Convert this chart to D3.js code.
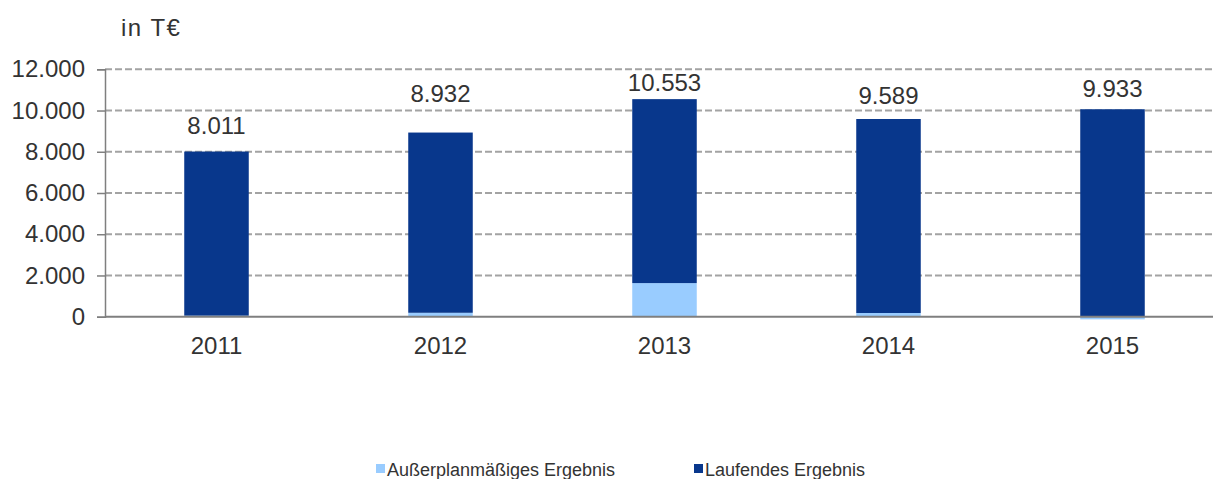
<!DOCTYPE html>
<html>
<head>
<meta charset="utf-8">
<script src="https://cdn.jsdelivr.net/npm/d3@7"></script>
<style>
  html, body { margin: 0; padding: 0; background: #fff; }
  svg { display: block; font-family: "Liberation Sans", Arial, sans-serif; }
</style>
</head>
<body>
<svg id="chart" width="1213" height="479"></svg>
<script>
// Jahreswerte in T€
const years = ["2011", "2012", "2013", "2014", "2015"];
const ausserplanmaessig = [50, 190, 1630, 180, -130];
const laufend = [7961, 8742, 8923, 9409, 10063];
const yTicks = [0, 2000, 4000, 6000, 8000, 10000, 12000];
const seriesNames = ["Außerplanmäßiges Ergebnis", "Laufendes Ergebnis"];

// Darstellung
const seriesColors = ["#99ccff", "#08378c"];
const textColor = "#333333";
const labelGap = [18, 31, 8, 15, 12]; // Abstand Summenbeschriftung über Balken (px)

const de = d3.formatLocale({ decimal: ",", thousands: ".", grouping: [3], currency: ["", " €"] });
const fmt = de.format(",d");

const svg = d3.select("#chart");
const W = 1213;

const x = d3.scaleBand().domain(years).range([104.5, 1224.5]).paddingInner(0.712).paddingOuter(0.356);
const y = d3.scaleLinear().domain([0, 12000]).range([316.7, 69.3]);

const rows = years.map((yr, i) => ({ year: yr, a: ausserplanmaessig[i], l: laufend[i] }));
const stacked = d3.stack().keys(["a", "l"]).offset(d3.stackOffsetDiverging)(rows);

// Hilfslinien
svg.append("g")
  .selectAll("line")
  .data(yTicks.filter(t => t > 0))
  .join("line")
  .attr("x1", 105).attr("x2", W)
  .attr("y1", d => y(d)).attr("y2", d => y(d))
  .attr("stroke", "#a3a3a3")
  .attr("stroke-width", 2)
  .attr("stroke-dasharray", "7,3");

// Balken
svg.append("g")
  .selectAll("g")
  .data(stacked)
  .join("g")
  .attr("fill", (d, i) => seriesColors[i])
  .selectAll("rect")
  .data(d => d)
  .join("rect")
  .attr("x", d => x(d.data.year))
  .attr("width", x.bandwidth())
  .attr("y", d => y(Math.max(d[0], d[1])))
  .attr("height", d => Math.abs(y(d[0]) - y(d[1])));

// y-Achse
const yAxis = svg.append("g")
  .attr("transform", "translate(105,0)")
  .call(d3.axisLeft(y).tickValues(yTicks).tickFormat(fmt).tickSize(8).tickPadding(12));
yAxis.select(".domain").attr("stroke", "#7f7f7f").attr("stroke-width", 1.5);
yAxis.selectAll(".tick line").attr("stroke", "#7f7f7f").attr("stroke-width", 1.5);
yAxis.selectAll(".tick text")
  .attr("fill", textColor)
  .style("font-size", "24px")
  .style("font-family", "Liberation Sans, Arial, sans-serif");

// x-Achse
const xAxis = svg.append("g")
  .attr("transform", `translate(0,${y(0)})`)
  .call(d3.axisBottom(x).tickSize(0).tickPadding(20));
xAxis.select(".domain").attr("d", `M105,0H${W}`).attr("stroke", "#7f7f7f").attr("stroke-width", 2);
xAxis.selectAll(".tick text")
  .attr("fill", textColor)
  .style("font-size", "24px")
  .style("font-family", "Liberation Sans, Arial, sans-serif");

// Summenbeschriftung
svg.append("g")
  .selectAll("text")
  .data(rows)
  .join("text")
  .attr("x", d => x(d.year) + x.bandwidth() / 2)
  .attr("y", (d, i) => y(Math.max(0, d.a) + d.l) - labelGap[i])
  .attr("text-anchor", "middle")
  .attr("fill", textColor)
  .style("font-size", "24px")
  .text(d => fmt(d.a + d.l));

// Einheit
svg.append("text")
  .attr("x", 121).attr("y", 36)
  .attr("fill", textColor)
  .style("font-size", "24px")
  .style("letter-spacing", "1.5px")
  .text("in T€");

// Legende
const legendX = [376, 694];
const legend = svg.append("g")
  .selectAll("g")
  .data(seriesNames)
  .join("g")
  .attr("transform", (d, i) => `translate(${legendX[i]},464)`);
legend.append("rect")
  .attr("width", 9).attr("height", 9)
  .attr("fill", (d, i) => seriesColors[i]);
legend.append("text")
  .attr("x", 11).attr("y", 12)
  .attr("fill", textColor)
  .style("font-size", "18px")
  .text(d => d);
</script>
</body>
</html>
